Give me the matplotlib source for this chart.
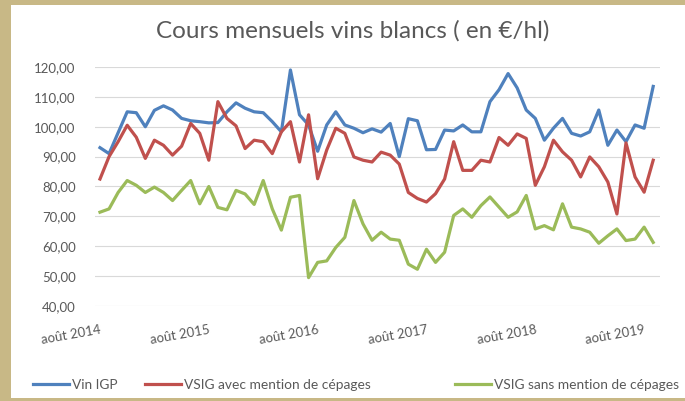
import matplotlib
matplotlib.use("Agg")
import matplotlib.pyplot as plt
from matplotlib.patches import Rectangle
from matplotlib.lines import Line2D

# ---- data ----
x_labels = ["août 2014", "août 2015", "août 2016", "août 2017", "août 2018", "août 2019"]
label_positions = [0, 12, 24, 36, 48, 60]

vin_igp = [93, 91, 98, 105, 104.7, 100, 105.5, 107, 105.6, 102.8,
           102, 101.7, 101.3, 101.4, 105, 108, 106.2, 105, 104.7, 101.7,
           98.3, 119, 104, 100.6, 91.8, 100.6, 105, 100.6, 99.5, 98,
           99.3, 98.2, 101.1, 90, 102.7, 102, 92.3, 92.4, 98.9, 98.6,
           100.6, 98.3, 98.3, 108.4, 112.4, 117.8, 113, 105.6, 102.8, 95.5,
           99.5, 102.8, 97.8, 96.9, 98.3, 105.6, 93.8, 98.9, 95, 100.6,
           99.5, 113.5]

vsig_avec = [82.5, 90, 95, 100.5, 96.5, 89.4, 95.5, 93.8, 90.5, 93.5,
             101.1, 97.8, 88.8, 108.4, 102.8, 100.3, 92.7, 95.5, 95, 91,
             98.3, 101.7, 88.2, 104, 82.6, 92.2, 99.5, 97.8, 89.9, 88.8,
             88.2, 91.5, 90.5, 87.5, 78, 76, 74.8, 77.6, 82.5, 95,
             85.4, 85.4, 88.8, 88.2, 96.4, 93.8, 97.6, 96.1, 80.4, 86.6,
             95.5, 91.6, 88.8, 83.2, 89.9, 86.6, 81.5, 70.8, 94.6, 83.2,
             78.1, 88.8]

vsig_sans = [71.4, 72.5, 78, 82, 80.4, 78, 79.8, 78, 75.3, 78.7,
             82, 74.2, 80, 73, 72.2, 78.7, 77.5, 74, 82, 72.5,
             65.4, 76.4, 77, 49.5, 54.6, 55.1, 59.6, 63, 75.3, 67.5,
             62, 64.7, 62.4, 62, 54, 52.3, 59, 54.6, 58, 70.3,
             72.5, 69.7, 73.6, 76.5, 73.1, 69.7, 71.5, 77, 65.8, 66.9,
             65.5, 74.2, 66.4, 65.8, 64.7, 61, 63.5, 65.8, 61.9, 62.4,
             66.4, 61.3]

series_names = ["Vin IGP", "VSIG avec mention de cépages", "VSIG sans mention de cépages"]
colors = ["#4F81BD", "#C0504D", "#9BBB59"]

plt.rcParams['font.family'] = ['Lato', 'DejaVu Sans']

W, H = 685, 401
fig = plt.figure(figsize=(W / 100, H / 100), dpi=100)
fig.patch.set_facecolor("#C8B886")
bg = Rectangle((11 / W, 3 / H), 1 - 11 / W, 1 - 3 / H - 5 / H,
               transform=fig.transFigure, facecolor="white",
               edgecolor="none", zorder=-10)
fig.add_artist(bg)

ax = fig.add_axes([95 / W, (H - 306) / H, 565 / W, 239 / H])
ax.set_facecolor("none")
x = list(range(len(vin_igp)))
lines = []
for vals, c, name in zip([vin_igp, vsig_avec, vsig_sans], colors, series_names):
    ln, = ax.plot(x, vals, color=c, lw=2.3, label=name, solid_joinstyle="round")
    lines.append(ln)

ax.set_ylim(40, 120)
ax.set_xlim(-0.55, 61.75)
yt = list(range(40, 121, 10))
ax.set_yticks(yt)
ax.set_yticklabels([f"{v},00" for v in yt], color="#595959", fontsize=9.5)
ax.yaxis.grid(True, color="#D9D9D9", lw=0.8)
ax.set_axisbelow(True)
for s in ax.spines.values():
    s.set_visible(False)
ax.tick_params(axis="both", length=0)
ax.tick_params(axis="y", pad=14)
ax.set_xticks(label_positions)
ax.set_xticklabels(x_labels, rotation=10, ha="right", va="top",
                   rotation_mode="anchor", color="#595959", fontsize=9.5)
ax.tick_params(axis="x", pad=13)

fig.text(353 / W, 1 - 31 / H, "Cours mensuels vins blancs ( en €/hl)",
         ha="center", va="center", fontsize=17.5, color="#595959")

legend_x = [33, 145, 455]
for ln, lx in zip(lines, legend_x):
    lg = fig.legend([Line2D([], [], color=ln.get_color(), lw=2.3)], [ln.get_label()],
                    loc="center left", bbox_to_anchor=(lx / W, 1 - 385 / H),
                    frameon=False, fontsize=9.9, handlelength=2.6, handletextpad=0.2,
                    borderaxespad=0, borderpad=0)
    for t in lg.get_texts():
        t.set_color("#595959")

fig.savefig("out.png", dpi=100)
